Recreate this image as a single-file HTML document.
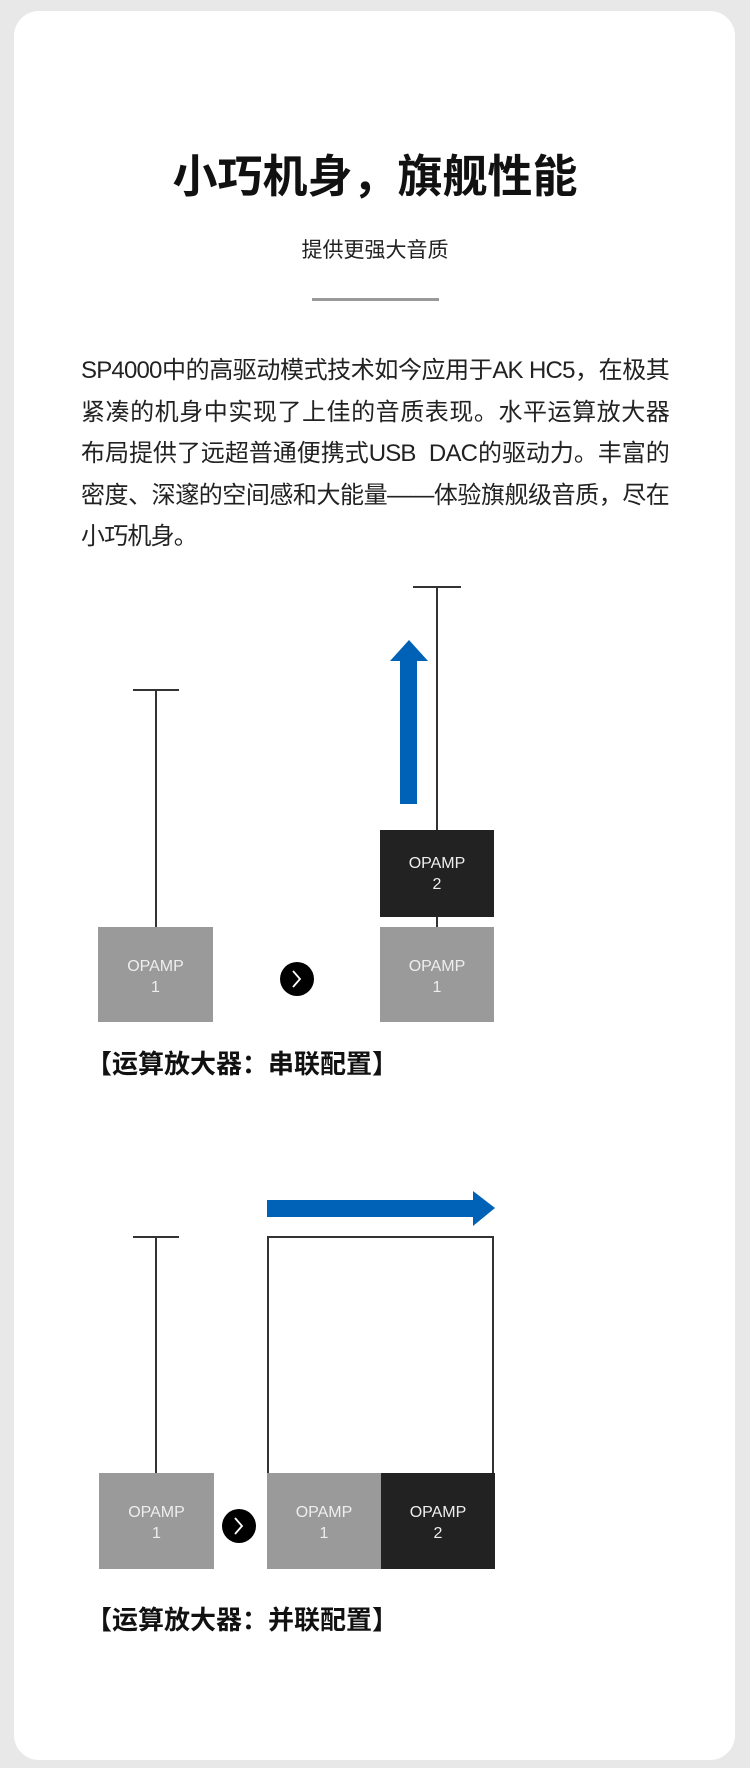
<!DOCTYPE html>
<html><head><meta charset="utf-8"><style>
html,body{margin:0;padding:0;background:#e8e8e8;}
body{width:750px;height:1768px;position:relative;overflow:hidden;font-family:"Liberation Sans","Noto Sans CJK SC",sans-serif;}
.card{position:absolute;left:14px;top:11px;width:721px;height:1749px;background:#fff;border-radius:25px;}
.t{position:absolute;left:0;width:750px;text-align:center;color:#111;}
.p{position:absolute;left:81px;width:588px;font-size:24px;line-height:41.5px;color:#222;letter-spacing:-0.8px;}
.p div{white-space:nowrap;text-align:justify;text-align-last:justify;}
.p div.l{text-align-last:left;}
.cap{position:absolute;left:86px;font-size:26px;font-weight:bold;color:#111;}
svg{position:absolute;left:0;top:0;}
</style></head><body>
<div class="card"></div>
<div class="t" style="top:148px;font-size:45px;font-weight:bold;line-height:58px;">小巧机身，旗舰性能</div>
<div class="t" style="top:236px;font-size:21px;line-height:30px;color:#222;">提供更强大音质</div>
<div style="position:absolute;left:312px;top:298px;width:127px;height:3px;background:#999;"></div>
<div class="p" style="top:350px;">
<div>SP4000中的高驱动模式技术如今应用于AK HC5，在极其</div>
<div>紧凑的机身中实现了上佳的音质表现。水平运算放大器</div>
<div>布局提供了远超普通便携式USB&nbsp; DAC的驱动力。丰富的</div>
<div>密度、深邃的空间感和大能量——体验旗舰级音质，尽在</div>
<div class="l">小巧机身。</div>
</div>
<svg width="750" height="1768" viewBox="0 0 750 1768" font-family="Liberation Sans, sans-serif">
<g stroke="#333" stroke-width="2" fill="none">
<line x1="133" y1="690" x2="179" y2="690"/><line x1="156" y1="690" x2="156" y2="927"/>
<line x1="413" y1="587" x2="461" y2="587"/><line x1="437" y1="587" x2="437" y2="927"/>
<line x1="133" y1="1237" x2="179" y2="1237"/><line x1="156" y1="1237" x2="156" y2="1473"/>
<path d="M268 1473 V1237 H493 V1473"/>
</g>
<rect x="98" y="927" width="115" height="95" fill="#9a9a9a"/>
<rect x="380" y="927" width="114" height="95" fill="#9a9a9a"/>
<rect x="380" y="830" width="114" height="87" fill="#222"/>
<polygon points="400,804 417,804 417,661 428,661 409,640 390,661 400,661" fill="#0062b6"/>
<rect x="99" y="1473" width="115" height="96" fill="#9a9a9a"/>
<rect x="267" y="1473" width="114" height="96" fill="#9a9a9a"/>
<rect x="381" y="1473" width="114" height="96" fill="#222"/>
<polygon points="267,1200 473,1200 473,1191 495,1208 473,1226 473,1217 267,1217" fill="#0062b6"/>
<circle cx="297" cy="979" r="17" fill="#000"/><path d="M293 971 L300 979 L293 987" stroke="#fff" stroke-width="1.8" fill="none"/>
<circle cx="239" cy="1526" r="17" fill="#000"/><path d="M235 1518 L242 1526 L235 1534" stroke="#fff" stroke-width="1.8" fill="none"/>
<g fill="#eee" font-size="16" text-anchor="middle">
<text x="155.5" y="971">OPAMP</text><text x="155.5" y="992">1</text>
<text x="437" y="971">OPAMP</text><text x="437" y="992">1</text>
<text x="437" y="868">OPAMP</text><text x="437" y="889">2</text>
<text x="156.5" y="1517">OPAMP</text><text x="156.5" y="1538">1</text>
<text x="324" y="1517">OPAMP</text><text x="324" y="1538">1</text>
<text x="438" y="1517">OPAMP</text><text x="438" y="1538">2</text>
</g>
</svg>
<div class="cap" style="top:1044px;">【运算放大器：串联配置】</div>
<div class="cap" style="top:1600px;">【运算放大器：并联配置】</div>
</body></html>
